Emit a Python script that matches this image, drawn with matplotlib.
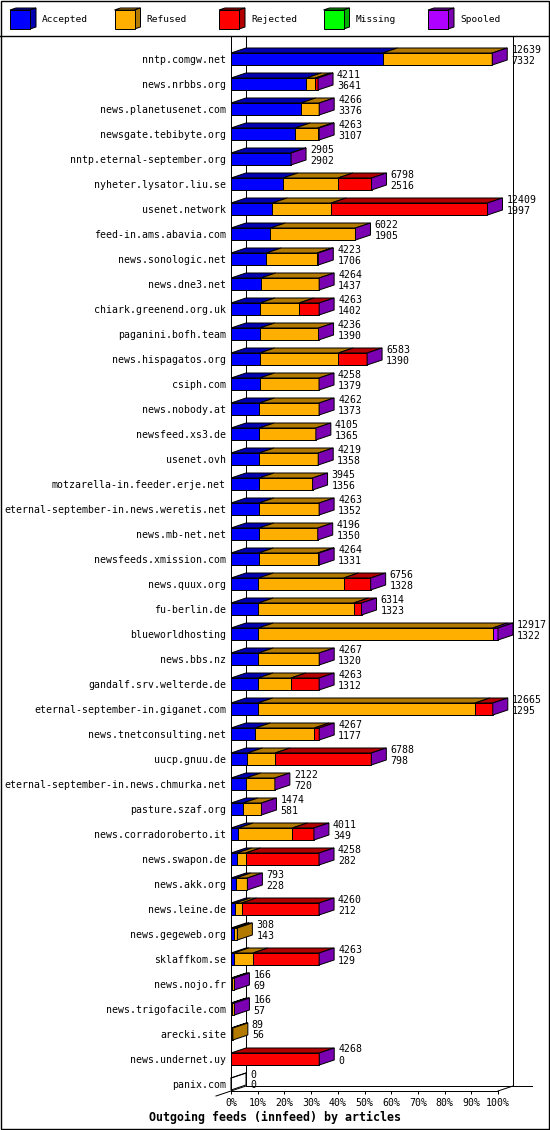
import matplotlib
matplotlib.use("Agg")
import matplotlib.pyplot as plt
from matplotlib.patches import Polygon, Rectangle
import numpy as np

# --- data ---
FEEDS = [
    "nntp.comgw.net", "news.nrbbs.org", "news.planetusenet.com", "newsgate.tebibyte.org",
    "nntp.eternal-september.org", "nyheter.lysator.liu.se", "usenet.network",
    "feed-in.ams.abavia.com", "news.sonologic.net", "news.dne3.net",
    "chiark.greenend.org.uk", "paganini.bofh.team", "news.hispagatos.org", "csiph.com",
    "news.nobody.at", "newsfeed.xs3.de", "usenet.ovh", "motzarella-in.feeder.erje.net",
    "eternal-september-in.news.weretis.net", "news.mb-net.net", "newsfeeds.xmission.com",
    "news.quux.org", "fu-berlin.de", "blueworldhosting", "news.bbs.nz",
    "gandalf.srv.welterde.de", "eternal-september-in.giganet.com", "news.tnetconsulting.net",
    "uucp.gnuu.de", "eternal-september-in.news.chmurka.net", "pasture.szaf.org",
    "news.corradoroberto.it", "news.swapon.de", "news.akk.org", "news.leine.de",
    "news.gegeweb.org", "sklaffkom.se", "news.nojo.fr", "news.trigofacile.com",
    "arecki.site", "news.undernet.uy", "panix.com",
]
OFFERED = [12639, 4211, 4266, 4263, 2905, 6798, 12409, 6022, 4223, 4264, 4263, 4236, 6583,
           4258, 4262, 4105, 4219, 3945, 4263, 4196, 4264, 6756, 6314, 12917, 4267, 4263,
           12665, 4267, 6788, 2122, 1474, 4011, 4258, 793, 4260, 308, 4263, 166, 166, 89,
           4268, 0]
ACCEPTED = [7332, 3641, 3376, 3107, 2902, 2516, 1997, 1905, 1706, 1437, 1402, 1390, 1390,
            1379, 1373, 1365, 1358, 1356, 1352, 1350, 1331, 1328, 1323, 1322, 1320, 1312,
            1295, 1177, 798, 720, 581, 349, 282, 228, 212, 143, 129, 69, 57, 56, 0, 0]
REFUSED = [5307, 440, 890, 1086, 3, 2660, 2850, 4117, 2457, 2827, 1890, 2846, 3800, 2879,
           2889, 2740, 2861, 2589, 2911, 2846, 2863, 4120, 4606, 11335, 2947, 1590, 10510,
           2850, 1335, 1402, 893, 2620, 420, 565, 300, 165, 935, 97, 109, 33, 0, 0]
REJECTED = [0, 130, 0, 70, 0, 1622, 7562, 0, 60, 0, 971, 0, 1393, 0, 0, 0, 0, 0, 0, 0, 70,
            1308, 385, 0, 0, 1361, 860, 240, 4655, 0, 0, 1042, 3556, 0, 3748, 0, 3199, 0, 0,
            0, 4268, 0]
MISSING = [0, 0, 0, 0, 0, 0, 0, 0, 0, 0, 0, 0, 0, 0, 0, 0, 0, 0, 0, 0, 0, 0, 0, 0, 0, 0, 0,
           0, 0, 0, 0, 0, 0, 0, 0, 0, 0, 0, 0, 0, 0, 0]
SPOOLED = [0, 0, 0, 0, 0, 0, 0, 0, 0, 0, 0, 0, 0, 0, 0, 0, 0, 0, 0, 0, 0, 0, 0, 260, 0, 0, 0,
           0, 0, 0, 0, 0, 0, 0, 0, 0, 0, 0, 0, 0, 0, 0]
# rows whose end cap is drawn in the refused shade instead of spooled
CAP_REFUSED = ["news.gegeweb.org", "arecki.site"]

CATEGORIES = ["Accepted", "Refused", "Rejected", "Missing", "Spooled"]
FRONT = ["#0000ff", "#ffaf00", "#ff0000", "#00ff00", "#af00ff"]
DARK = ["#0000b2", "#b27a00", "#b20000", "#00b200", "#7a00b2"]

# --- layout (pixels of a 550x1130 image) ---
W, HT = 550, 1130
PX_X0, PX_X1 = 231, 498
PX_TOP, PX_BOT = 37, 1091
ROW0, STEP = 59, 25
LW = 0.72

plt.rcParams["font.family"] = "DejaVu Sans Mono"
plt.rcParams["font.size"] = 7.1

fig = plt.figure(figsize=(W / 100, HT / 100), dpi=100)

# background layer: frame + legend
bg = fig.add_axes([0, 0, 1, 1])
bg.set_xlim(0, W)
bg.set_ylim(HT, 0)
bg.axis("off")
bg.add_patch(Rectangle((0.5, 0.5), W - 2, HT - 2, fc="none", ec="black", lw=LW * 1.4))
bg.plot([0, W], [35.5, 35.5], color="black", lw=LW * 1.4)
for k, (name, fc, dc) in enumerate(zip(CATEGORIES, FRONT, DARK)):
    x = 10 + k * 104.5
    bg.add_patch(Polygon([(x, 10), (x + 20, 10), (x + 26, 8), (x + 6, 8)],
                         fc=dc, ec="black", lw=LW))
    bg.add_patch(Polygon([(x + 20, 10), (x + 26, 8), (x + 26, 27), (x + 20, 29)],
                         fc=dc, ec="black", lw=LW))
    bg.add_patch(Rectangle((x, 10), 20, 19, fc=fc, ec="black", lw=LW))
    bg.text(x + 32, 20, name, fontsize=6.8, va="center", ha="left")

# main chart
ax = fig.add_axes([PX_X0 / W, 1 - PX_BOT / HT, (PX_X1 - PX_X0) / W, (PX_BOT - PX_TOP) / HT])
ax.patch.set_visible(False)
y_bot = (PX_BOT - ROW0) / STEP
y_top = (PX_TOP - ROW0) / STEP
ax.set_xlim(0, 100)
ax.set_ylim(y_bot, y_top)

DX = 15 / (PX_X1 - PX_X0) * 100
DY = 5 / STEP
H = 12 / STEP

scale = 100 / max(OFFERED)
series = [ACCEPTED, REFUSED, REJECTED, MISSING, SPOOLED]

for i, feed in enumerate(FEEDS):
    yt, yb = i - H / 2, i + H / 2
    x0 = 0.0
    for k in range(len(series)):
        v = series[k][i] * scale
        if v <= 0:
            continue
        x1 = x0 + v
        ax.add_patch(Polygon([(x0, yt), (x1, yt), (x1 + DX, yt - DY), (x0 + DX, yt - DY)],
                             fc=DARK[k], ec="black", lw=LW, zorder=3, clip_on=False))
        ax.add_patch(Rectangle((x0, yt), v, H, fc=FRONT[k], ec="black", lw=LW,
                               zorder=3, clip_on=False))
        x0 = x1
    cap = DARK[1] if feed in CAP_REFUSED else DARK[4]
    if OFFERED[i] == 0:
        cap = "none"
        ax.plot([0, DX], [yt, yt - DY], color="black", lw=LW, zorder=3, clip_on=False)
    ax.add_patch(Polygon([(x0, yt), (x0 + DX, yt - DY), (x0 + DX, yb - DY), (x0, yb)],
                         fc=cap, ec="black", lw=LW, zorder=3, clip_on=False))
    ax.annotate(str(OFFERED[i]), xy=(x0, i), xytext=(DX / scale * 0 + 19, 9.5),
                textcoords="offset pixels", va="center", ha="left", annotation_clip=False)
    ax.annotate(str(ACCEPTED[i]), xy=(x0, i), xytext=(19, -1.5),
                textcoords="offset pixels", va="center", ha="left", annotation_clip=False)

# walls and floor
kw = dict(color="black", lw=LW, zorder=1, clip_on=False)
ax.plot([DX, DX], [y_top, y_bot - DY], **kw)
ax.plot([100 + DX, 100 + DX], [y_top, y_bot - DY], **kw)
ax.plot([DX, 100 + DX + 19 / (PX_X1 - PX_X0) * 100], [y_bot - DY, y_bot - DY], **kw)
ax.plot([100, 100 + DX], [y_bot, y_bot - DY], **kw)
ax.plot([-DX, DX], [y_bot + DY, y_bot - DY], **kw)

for side in ["top", "right"]:
    ax.spines[side].set_visible(False)
for side in ["left", "bottom"]:
    ax.spines[side].set_linewidth(LW)

ticks = np.arange(0, 101, 10)
ax.set_xticks(ticks)
ax.set_xticklabels([f"{t}%" for t in ticks])
ax.tick_params(axis="x", length=2.4, width=LW, pad=3.0)
ax.set_yticks(range(len(FEEDS)))
ax.set_yticklabels(FEEDS)
ax.tick_params(axis="y", length=0, pad=3.6)

fig.text(275 / W, 1 - 1117 / HT, "Outgoing feeds (innfeed) by articles",
         ha="center", va="center", fontsize=8.4, fontweight="bold")

fig.savefig("out.png", dpi=100, facecolor="white")
